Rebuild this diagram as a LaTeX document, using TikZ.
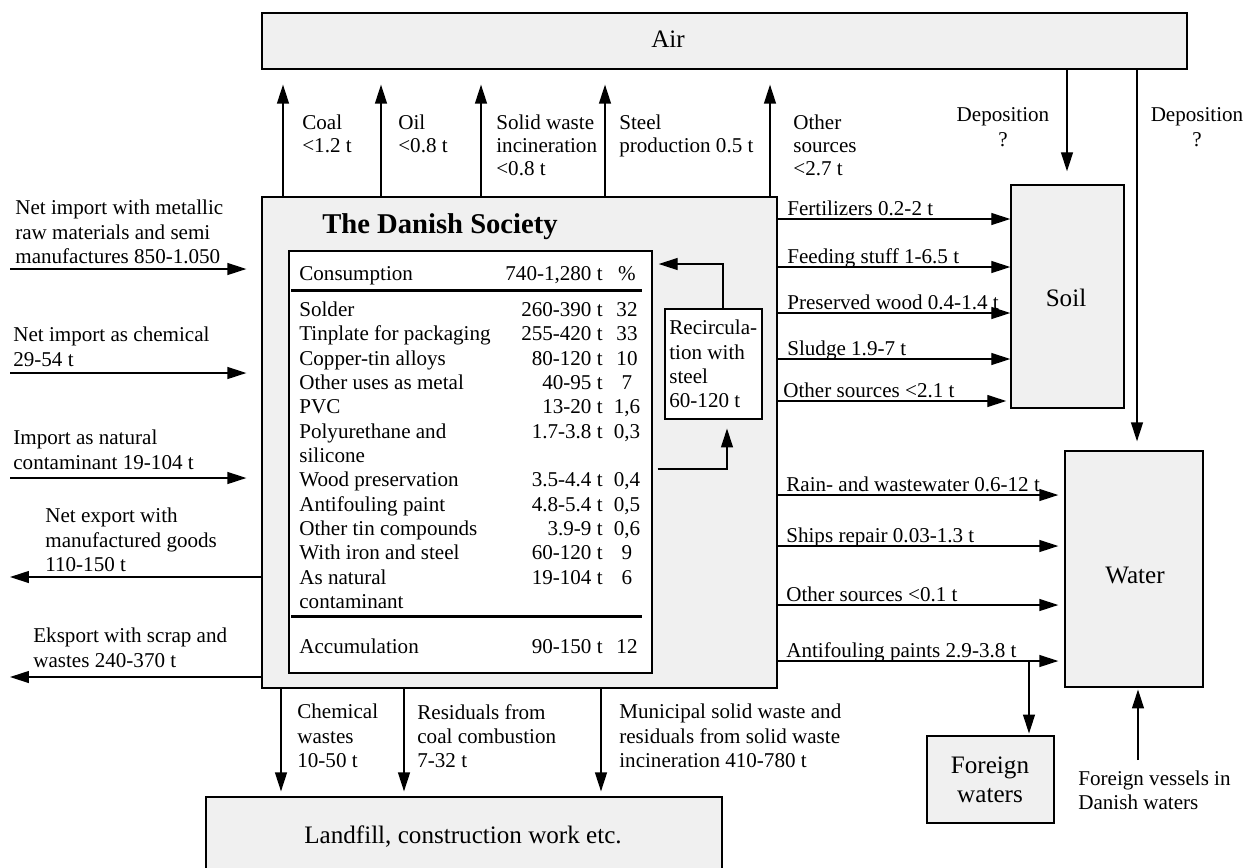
\documentclass[tikz,border=0pt]{standalone}
\usepackage{fontspec}
\setmainfont{Liberation Serif}
\usetikzlibrary{arrows.meta,fit}
\definecolor{boxgray}{RGB}{240,240,240}
\begin{document}
\begin{tikzpicture}[x=0.02cm,y=-0.02cm,
  box/.style={draw, line width=0.8pt, fill=boxgray, inner sep=0pt},
  wbox/.style={box, fill=white},
  flow/.style={line width=0.75pt, -{Triangle[length=10.8pt,width=6.8pt]}},
  lbl/.style={font=\fontsize{12}{13.8}\selectfont, align=left, inner sep=0pt, anchor=north west},
  toplbl/.style={lbl, font=\fontsize{12}{12.9}\selectfont},
  clbl/.style={lbl, align=center, anchor=north, font=\fontsize{12}{14.5}\selectfont},
  rlbl/.style={font=\fontsize{12}{13.8}\selectfont, inner sep=0pt, anchor=base west},
  big/.style={font=\fontsize{14.3}{17}\selectfont, inner sep=0pt, align=center},
  tab/.style={font=\fontsize{12}{13.8}\selectfont, inner sep=0pt},
  rulebar/.style={line width=1.7pt},
]
\useasboundingbox (0,0) rectangle (1244,867);
\clip (0,0) rectangle (1244,867);

% ---------- compartments ----------
\node[box, fit={(262,13) (1187,69)}] (air) {};
\node[big, anchor=base] (airtxt) at (668,47) {Air};

\node[box, fit={(262,197) (777,688)}] (soc) {};
\node[font=\bfseries\fontsize{16.3}{18}\selectfont, inner sep=0pt, anchor=base] (title) at (440,233) {The Danish Society};

\node[wbox, fit={(289,251) (652,673)}] (tbl) {};
\node[wbox, fit={(665,309) (762,419)}] (rec) {};
\node[lbl] (rectxt) at (669,320) {Recircula-\\tion with\\steel\\60-120 t};

\node[box, fit={(1011,185) (1124,408)}] (soil) {};
\node[big, anchor=base] (soiltxt) at (1066,306) {Soil};

\node[box, fit={(1065,451) (1203,687)}] (water) {};
\node[big, anchor=base] (watertxt) at (1135,583) {Water};

\node[box, fit={(927,736) (1054,823)}] (foreign) {};
\node[big, anchor=north] (foreigntxt) at (990,756) {Foreign\\waters};

\node[box, fit={(206,797) (722,880)}] (landfill) {};
\node[big, anchor=base] (landfilltxt) at (463,843) {Landfill, construction work etc.};

% ---------- consumption table ----------
\node[tab, anchor=base west] (hdname) at (299,280) {Consumption};
\node[tab, anchor=base east] (hdamt) at (603,280) {740-1,280 t};
\node[tab, anchor=base] (hdpct) at (627,280) {\%};
\draw[rulebar] (291,290) -- (642,290);
\foreach \yy/\nm/\am/\pc [count=\i] in {
    316/Solder/260-390 t/32,
    340.5/Tinplate for packaging/255-420 t/33,
    365/Copper-tin alloys/80-120 t/10,
    389/Other uses as metal/40-95 t/7,
    413/PVC/13-20 t/{1,6},
    438/Polyurethane and/1.7-3.8 t/{0,3},
    486/Wood preservation/3.5-4.4 t/{0,4},
    511/Antifouling paint/4.8-5.4 t/{0,5},
    535/Other tin compounds/3.9-9 t/{0,6},
    559/With iron and steel/60-120 t/9,
    584/As natural/19-104 t/6,
    653/Accumulation/90-150 t/12}{
  \node[tab, anchor=base west] (nm\i) at (299,\yy) {\nm};
  \node[tab, anchor=base east] (am\i) at (603,\yy) {\am};
  \node[tab, anchor=base] (pc\i) at (627,\yy) {\pc};
}
\node[tab, anchor=base west] (nmsil) at (299,462) {silicone};
\node[tab, anchor=base west] (nmcon) at (299,608) {contaminant};
\draw[rulebar] (291,616) -- (642,616);

% ---------- recirculation loop ----------
\coordinate (rc1) at (723,264);
\coordinate (rc2) at (727,469);
\draw[flow, shorten >=3.4pt] (rec.north -| rc1) |- (tbl.east |- rc1);
\draw[flow, shorten <=2.8pt, shorten >=5pt] (tbl.east |- rc2) -| (rec.south -| rc2);

% ---------- emissions to air ----------
\foreach \xx [count=\i] in {283,381,481,605,770}{
  \coordinate (a\i) at (\xx,84);
  \draw[flow, shorten >=8.5pt] (soc.north -| a\i) -- (air.south -| a\i);
}
\node[toplbl] (coal) at (302,115) {Coal\\<1.2 t};
\node[toplbl] (oil) at (398,115) {Oil\\<0.8 t};
\node[toplbl] (swi) at (496,115) {Solid waste\\incineration\\<0.8 t};
\node[toplbl] (steel) at (619,115) {Steel\\production 0.5 t};
\node[toplbl] (othair) at (793,115) {Other\\sources\\<2.7 t};

% ---------- deposition ----------
\coordinate (d1) at (1067,173);
\coordinate (d2) at (1137,442);
\draw[flow, shorten >=7.4pt] (air.south -| d1) -- (soil.north -| d1);
\draw[flow, shorten >=5.1pt] (air.south -| d2) -- (water.north -| d2);
\node[clbl] (dep1) at (1003,107) {Deposition\\?};
\node[clbl] (dep2) at (1197,107) {Deposition\\?};

% ---------- import and export ----------
\foreach \yy [count=\i] in {269,373,478}{
  \coordinate (in\i) at (10,\yy);
  \draw[flow, shorten >=8.5pt] (in\i) -- (soc.west |- in\i);
}
\foreach \yy [count=\i] in {577,677}{
  \coordinate (out\i) at (10,\yy);
  \draw[flow] (soc.west |- out\i) -- (out\i);
}
\node[lbl] (imp1) at (15,200) {Net import with metallic\\raw materials and semi\\manufactures 850-1.050};
\node[lbl] (imp2) at (13,327) {Net import as chemical\\29-54 t};
\node[lbl] (imp3) at (13,430) {Import as natural\\contaminant 19-104 t};
\node[lbl] (exp1) at (45,508) {Net export with\\manufactured goods\\110-150 t};
\node[lbl] (exp2) at (33,628) {Eksport with scrap and\\wastes 240-370 t};

% ---------- flows to soil and water ----------
\foreach \yy/\lx/\txt/\dest/\sh [count=\i] in {
    219/787/Fertilizers 0.2-2 t/soil/0pt,
    267/787/Feeding stuff 1-6.5 t/soil/0pt,
    313/787/Preserved wood 0.4-1.4 t/soil/0pt,
    359/787/Sludge 1.9-7 t/soil/0pt,
    401/783/Other sources <2.1 t/soil/2.3pt,
    495/786/Rain- and wastewater 0.6-12 t/water/3.4pt,
    546/786/Ships repair 0.03-1.3 t/water/3.4pt,
    605/786/Other sources <0.1 t/water/3.4pt,
    661/786/Antifouling paints 2.9-3.8 t/water/3.4pt}{
  \coordinate (r\i) at (\lx,\yy);
  \draw[flow, shorten >=\sh] (soc.east |- r\i) -- (\dest.west |- r\i);
  \node[rlbl] (rl\i) at ([yshift=2pt]r\i) {\txt};
}
\coordinate (br) at (1029,661);
\draw[flow, shorten >=1pt] (br) -- (foreign.north -| br);

\coordinate (fv) at (1138,760);
\draw[flow, shorten >=1pt] (fv) -- (water.south -| fv);
\node[lbl] (fvtxt) at (1078,770) {Foreign vessels in\\Danish waters};

% ---------- flows to landfill ----------
\foreach \xx [count=\i] in {281,404,601}{
  \coordinate (b\i) at (\xx,792);
  \draw[flow, shorten >=2.8pt] (soc.south -| b\i) -- (landfill.north -| b\i);
}
\node[lbl] (chem) at (297,704) {Chemical\\wastes\\10-50 t};
\node[lbl] (coalres) at (417,704) {Residuals from\\coal combustion\\7-32 t};
\node[lbl] (msw) at (619,704) {Municipal solid waste and\\residuals from solid waste\\incineration 410-780 t};
\end{tikzpicture}
\end{document}
